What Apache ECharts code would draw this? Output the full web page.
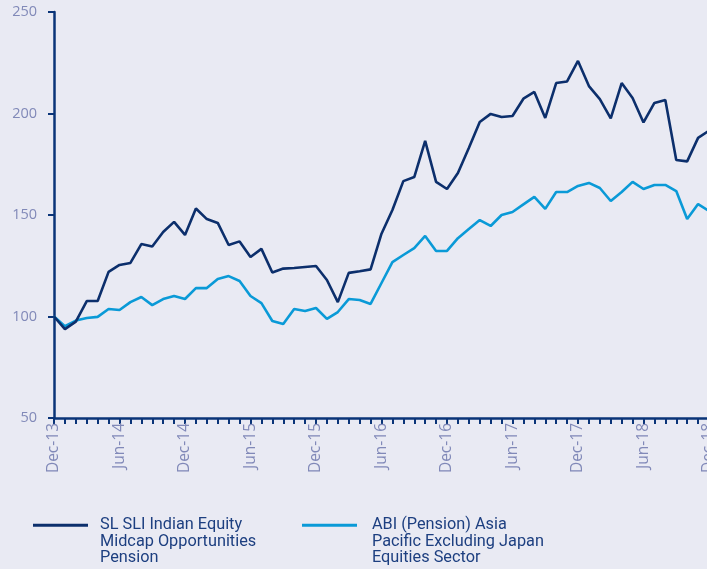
<!DOCTYPE html>
<html>
<head>
<meta charset="utf-8">
<script src="https://cdn.jsdelivr.net/npm/echarts@6/dist/echarts.min.js"></script>
<style>
html,body{margin:0;padding:0;background:#e9eaf3;overflow:hidden;}
#chart{width:707px;height:569px;}
</style>
</head>
<body>
<div id="chart"></div>
<script>
const months = [
 'Dec-13','Jan-14','Feb-14','Mar-14','Apr-14','May-14','Jun-14','Jul-14','Aug-14','Sep-14','Oct-14','Nov-14',
 'Dec-14','Jan-15','Feb-15','Mar-15','Apr-15','May-15','Jun-15','Jul-15','Aug-15','Sep-15','Oct-15','Nov-15',
 'Dec-15','Jan-16','Feb-16','Mar-16','Apr-16','May-16','Jun-16','Jul-16','Aug-16','Sep-16','Oct-16','Nov-16',
 'Dec-16','Jan-17','Feb-17','Mar-17','Apr-17','May-17','Jun-17','Jul-17','Aug-17','Sep-17','Oct-17','Nov-17',
 'Dec-17','Jan-18','Feb-18','Mar-18','Apr-18','May-18','Jun-18','Jul-18','Aug-18','Sep-18','Oct-18','Nov-18',
 'Dec-18'
];
const seriesNames = [
 'SL SLI Indian Equity\nMidcap Opportunities\nPension',
 'ABI (Pension) Asia\nPacific Excluding Japan\nEquities Sector'
];
const fundValues = [100, 93.8, 97.5, 107.6, 107.6, 122, 125.4, 126.4, 135.7, 134.5, 141.6, 146.6,
 140.2, 153.2, 148, 146.1, 135.2, 137, 129.3, 133.3, 121.7, 123.6, 123.9, 124.4,
 124.9, 118, 107.1, 121.5, 122.3, 123.2, 140.8, 152.5, 166.7, 168.7, 186.5, 166.3,
 162.8, 170.7, 183, 195.8, 199.8, 198.3, 198.8, 207.3, 210.6, 197.8, 215, 215.8,
 225.9, 213.5, 207.1, 197.6, 215, 207.6, 195.6, 205.2, 206.7, 177.1, 176.4, 188,
 191.5];
const sectorValues = [100, 95.2, 98, 99.3, 99.8, 103.7, 103.2, 107.1, 109.6, 105.6, 108.6, 110.1,
 108.6, 114, 114, 118.5, 119.9, 117.5, 110.1, 106.6, 97.8, 96.3, 103.7, 102.7,
 104.2, 98.8, 102.2, 108.6, 108.1, 106.2, 116.5, 126.8, 130.3, 133.7, 139.7, 132.3,
 132.3, 138.6, 143.1, 147.5, 144.6, 150, 151.5, 155.2, 158.9, 153, 161.3, 161.3,
 164.3, 165.8, 163.3, 156.9, 161.3, 166.3, 162.8, 164.8, 164.8, 161.8, 148, 155.4,
 152];
const yMin = 50, yMax = 250, yStep = 50;

const navy = '#0c2f6c';
const cyan = '#0a9ad7';
const axisColor = '#0a3478';
const labelColor = '#8189b8';
const legendFont = {
  color: '#1d3f80', fontFamily: 'Liberation Sans Narrow, Roboto, sans-serif',
  fontSize: 16.3, lineHeight: 16.5
};

// put the first line of each legend label level with its line icon
function legendFormatter(gapKey) {
  return function (name) {
    const lines = [' ', ' '].concat(name.split('\n'));
    return lines.map(l => '{' + gapKey + '|' + l + '}').join('\n');
  };
}

function makeLegend(name, left, gapKey, gap) {
  const rich = {};
  rich[gapKey] = Object.assign({padding: [0, 0, 0, gap]}, legendFont);
  return {
    data: [name], left: left, top: 484, padding: 0,
    icon: 'rect', itemWidth: 55, itemHeight: 3,
    formatter: legendFormatter(gapKey),
    textStyle: Object.assign({rich: rich}, legendFont)
  };
}

const chart = echarts.init(document.getElementById('chart'), null, {renderer: 'canvas'});
chart.setOption({
  backgroundColor: '#e9eaf3',
  animation: false,
  grid: {left: 54, top: 12, width: 655, height: 406, containLabel: false, outerBoundsMode: 'none'},
  xAxis: {
    type: 'category', data: months, boundaryGap: false,
    axisLine: {lineStyle: {color: axisColor, width: 2.5}},
    axisTick: {show: true, interval: 0, length: 6, lineStyle: {color: axisColor, width: 2}},
    axisLabel: {interval: 5, rotate: 90, color: labelColor, fontSize: 15.5, margin: 5,
      fontFamily: 'Open Sans, sans-serif', hideOverlap: false},
    splitLine: {show: false}
  },
  yAxis: {
    type: 'value', min: yMin, max: yMax, interval: yStep,
    axisLine: {show: true, lineStyle: {color: axisColor, width: 2.5}},
    axisTick: {show: true, length: 6, lineStyle: {color: axisColor, width: 2}},
    axisLabel: {color: labelColor, fontSize: 14.5, margin: 17, fontFamily: 'Open Sans, sans-serif'},
    splitLine: {show: false}
  },
  legend: [
    makeLegend(seriesNames[0], 33, 'a', 7),
    makeLegend(seriesNames[1], 302, 'b', 10)
  ],
  series: [
    {name: seriesNames[0], type: 'line', data: fundValues, showSymbol: false, symbol: 'none',
     lineStyle: {color: navy, width: 2.6}, itemStyle: {color: navy}, z: 3},
    {name: seriesNames[1], type: 'line', data: sectorValues, showSymbol: false, symbol: 'none',
     lineStyle: {color: cyan, width: 2.6}, itemStyle: {color: cyan}, z: 2}
  ]
});
</script>
</body>
</html>
